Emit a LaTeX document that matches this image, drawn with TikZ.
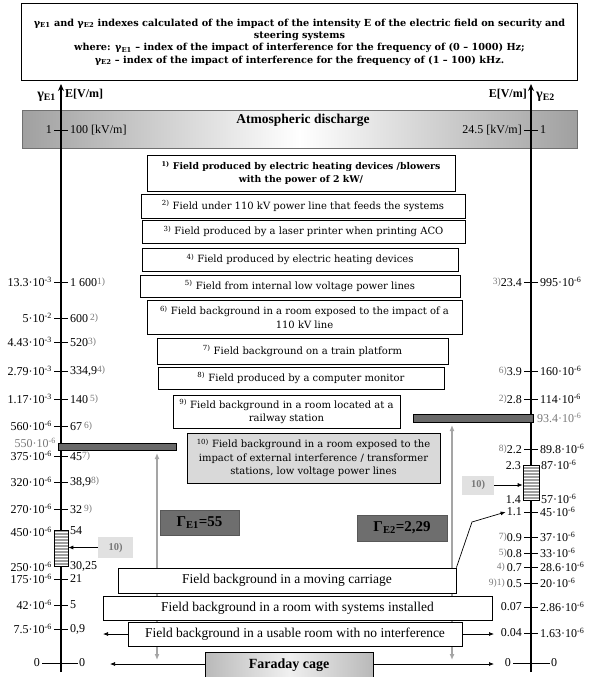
\documentclass[tikz,border=0pt]{standalone}
\usepackage{fontspec}
\setmainfont{Liberation Serif}
\newfontfamily\boxfont[Ligatures=TeX]{DejaVu Serif}
\usetikzlibrary{arrows.meta,positioning,patterns,calc}
\definecolor{pband}{RGB}{160,160,160}
\definecolor{pbar}{RGB}{105,105,105}
\definecolor{pgamma}{RGB}{110,110,110}
\definecolor{pcell}{RGB}{217,217,217}
\definecolor{plabel}{RGB}{225,225,225}
\definecolor{pgray}{RGB}{120,120,120}
\definecolor{parrow}{RGB}{165,165,165}
\newcommand{\mk}[1]{\textcolor{pgray}{\raisebox{2pt}{\fontsize{9.5}{10}\selectfont #1}}}
\newcommand{\ex}[1]{·10\textsuperscript{#1}}
\newcommand{\scaletick}[5]{%
  \draw[tick] (#1,#2) ++(-7,0) -- ++(14,0);
  \node[scalelbl,anchor=east] (#3l) at (#1-8,#2) {#4};
  \node[scalelbl,anchor=west] (#3r) at (#1+8,#2) {#5};
}
\tikzset{
  topbox/.style={draw=black,line width=0.7pt,fill=white,align=center,inner sep=2pt,
                 font=\boxfont\bfseries\fontsize{9.7}{12.3}\selectfont},
  fieldbox/.style={draw=black,line width=0.8pt,fill=white,align=center,inner sep=1pt,
                   font=\boxfont\fontsize{10}{13.5}\selectfont},
  groundbox/.style={draw=black,line width=0.8pt,fill=white,inner sep=1pt,
                    font=\fontsize{13.5}{15}\selectfont},
  band/.style={draw=pband!70!black,line width=0.6pt,left color=pband,right color=pband,
               middle color=white,inner sep=0pt},
  hdr/.style={inner sep=1pt,font=\bfseries\fontsize{12}{14}\selectfont},
  scalelbl/.style={inner sep=1pt,font=\fontsize{12}{13}\selectfont},
  tick/.style={line width=1pt},
  axis/.style={line width=2.2pt,-{Stealth[length=7pt,width=6pt]}},
  arr/.style={line width=0.7pt,-{Latex[length=5pt,width=4pt]}},
  grayarr/.style={parrow,line width=1.5pt,{Latex[length=6pt,width=5pt]}-{Latex[length=6pt,width=5pt]}},
  bar/.style={draw=black,line width=0.6pt,fill=pbar,inner sep=0pt},
  gammabox/.style={fill=pgamma,draw=pgamma!80!black,inner sep=0pt,
                   font=\bfseries\fontsize{15}{17}\selectfont},
  tenbox/.style={fill=plabel,inner sep=0pt,text=pgray,font=\bfseries\fontsize{10.5}{12}\selectfont},
  hatchseg/.style={draw=black,line width=0.6pt,preaction={fill=gray!75},
                   pattern=horizontal lines,pattern color=white,inner sep=0pt},
}
\begin{document}
\begin{tikzpicture}[x=1pt,y=-1pt]
  \useasboundingbox (0,0) rectangle (593,677);
  % heading
  \node[topbox,minimum width=556,minimum height=77] (head) at (299.5,42)
    {γ\textsubscript{E1} and γ\textsubscript{E2} indexes calculated of the impact of the intensity E of the electric field on security and\\
     steering systems\\
     where: γ\textsubscript{E1} – index of the impact of interference for the frequency of (0 – 1000) Hz;\\
     γ\textsubscript{E2} – index of the impact of interference for the frequency of (1 – 100) kHz.};
  % atmospheric band
  \node[band,minimum width=555,minimum height=38] (atm) at (299.5,129) {};
  \node[font=\bfseries\fontsize{13.5}{15}\selectfont] (atmtxt) at (303,120) {Atmospheric discharge};
  % gray ranges
  \coordinate (gl0) at (157,660);
  \coordinate (gl1) at (157,453);
  \coordinate (gr0) at (452,660);
  \coordinate (gr1) at (452,425);
  \draw[grayarr] (gl0) -- (gl1);
  \draw[grayarr] (gr0) -- (gr1);
  % axes
  \coordinate (ax1b) at (61,672);
  \coordinate (ax1t) at (61,84);
  \coordinate (ax2b) at (531,672);
  \coordinate (ax2t) at (531,84);
  \draw[axis] (ax1b) -- (ax1t);
  \draw[axis] (ax2b) -- (ax2t);
  \node[hdr,anchor=east,font=\bfseries\fontsize{14}{15}\selectfont] (g1) at (57,97) {γ\textsubscript{E1}};
  \node[hdr,anchor=west] (e1) at (64,94) {E[V/m]};
  \node[hdr,anchor=east] (e2) at (528,94) {E[V/m]};
  \node[hdr,anchor=west,font=\bfseries\fontsize{14}{15}\selectfont] (g2) at (535,97) {γ\textsubscript{E2}};
  % sources of the field
  \node[fieldbox,font=\boxfont\bfseries\fontsize{9.3}{13}\selectfont,minimum width=308,minimum height=36] (b1) at (301,173)
    {\textsuperscript{1)} Field produced by electric heating devices /blowers\\ with the power of 2 kW/};
  \node[fieldbox,minimum width=324,minimum height=24] (b2) at (303,206)
    {\textsuperscript{2)} Field under 110 kV power line that feeds the systems};
  \node[fieldbox,minimum width=323,minimum height=23] (b3) at (303.5,231.5)
    {\textsuperscript{3)} Field produced by a laser printer when printing ACO};
  \node[fieldbox,minimum width=316,minimum height=23] (b4) at (300,259.5)
    {\textsuperscript{4)} Field produced by electric heating devices};
  \node[fieldbox,minimum width=320,minimum height=22] (b5) at (300,286)
    {\textsuperscript{5)} Field from internal low voltage power lines};
  \node[fieldbox,minimum width=315,minimum height=34] (b6) at (304.5,317)
    {\textsuperscript{6)} Field background in a room exposed to the impact of a\\ 110 kV line};
  \node[fieldbox,minimum width=291,minimum height=26] (b7) at (302.5,351)
    {\textsuperscript{7)} Field background on a train platform};
  \node[fieldbox,minimum width=286,minimum height=22] (b8) at (301,378)
    {\textsuperscript{8)} Field produced by a computer monitor};
  \node[fieldbox,minimum width=227,minimum height=33] (b9) at (286.5,411.5)
    {\textsuperscript{9)} Field background in a room located at a\\ railway station};
  \node[fieldbox,fill=pcell,minimum width=253,minimum height=50] (b10) at (313.5,458)
    {\textsuperscript{10)} Field background in a room exposed to the\\ impact of external interference / transformer\\ stations, low voltage power lines};
  % level bars
  \node[bar,minimum width=118,minimum height=7] (lbar) at (117,446.5) {};
  \node[bar,minimum width=120,minimum height=8] (rbar) at (473,418) {};
  % left scale
  \scaletick{61}{130}{la}{1}{100 [kV/m]}
  \scaletick{61}{282}{lb}{13.3\ex{-3}}{1 600\mk{1)}}
  \scaletick{61}{318}{lc}{5\ex{-2}}{600\,\mk{2)}}
  \scaletick{61}{342}{ld}{4.43\ex{-3}}{520\mk{3)}}
  \scaletick{61}{371}{le}{2.79\ex{-3}}{334,9\mk{4)}}
  \scaletick{61}{399}{lf}{1.17\ex{-3}}{140\,\mk{5)}}
  \scaletick{61}{426}{lg}{560\ex{-6}}{67\,\mk{6)}}
  \node[scalelbl,anchor=east,text=pgray] (lbarl) at (57,443) {550\ex{-6}};
  \scaletick{61}{456}{lh}{375\ex{-6}}{45\mk{7)}}
  \scaletick{61}{482}{li}{320\ex{-6}}{38,9\mk{8)}}
  \scaletick{61}{509}{lj}{270\ex{-6}}{32\,\mk{9)}}
  \node[hatchseg,minimum width=14,minimum height=36] (h1) at (61,548) {};
  \node[scalelbl,anchor=east] (h1a) at (53,532) {450\ex{-6}};
  \node[scalelbl,anchor=west] (h1b) at (69,531) {54};
  \node[scalelbl,anchor=east] (h1c) at (53,567) {250\ex{-6}};
  \node[scalelbl,anchor=west] (h1d) at (69,566) {30,25};
  \scaletick{61}{579}{lk}{175\ex{-6}}{21}
  \scaletick{61}{605}{ll}{42\ex{-6}}{5}
  \scaletick{61}{629}{lm}{7.5\ex{-6}}{0,9}
  \draw[tick] (42,663) -- (78,663);
  \node[scalelbl,anchor=east] (lnl) at (41,663) {0};
  \node[scalelbl,anchor=west] (lnr) at (78,663) {0};
  % right scale
  \scaletick{531}{130}{ra}{24.5 [kV/m]}{1}
  \scaletick{531}{282}{rb}{\mk{3)}23.4}{995\ex{-6}}
  \scaletick{531}{371}{rc}{\mk{6)}3.9}{160\ex{-6}}
  \scaletick{531}{399}{rd}{\mk{2)}2.8}{114\ex{-6}}
  \node[scalelbl,anchor=west,text=pgray] (rbarl) at (536,418) {93.4\ex{-6}};
  \scaletick{531}{449}{re}{\mk{8)}2.2}{89.8\ex{-6}}
  \node[hatchseg,minimum width=16,minimum height=35] (h2) at (531,482.5) {};
  \node[scalelbl,anchor=east] (h2a) at (522,466) {2.3};
  \node[scalelbl,anchor=west] (h2b) at (540,465) {87\ex{-6}};
  \node[scalelbl,anchor=east] (h2c) at (522,500) {1.4};
  \node[scalelbl,anchor=west] (h2d) at (540,499) {57\ex{-6}};
  \scaletick{531}{512}{rf}{1.1}{45\ex{-6}}
  \scaletick{531}{537}{rg}{\mk{7)}0.9}{37\ex{-6}}
  \scaletick{531}{553}{rh}{\mk{5)}0.8}{33\ex{-6}}
  \scaletick{531}{567}{ri}{\mk{4)}\,0.7}{28.6\ex{-6}}
  \scaletick{531}{583}{rj}{\mk{9)1)}\,0.5}{20\ex{-6}}
  \scaletick{531}{607}{rk}{0.07}{2.86\ex{-6}}
  \scaletick{531}{633}{rl}{0.04}{1.63\ex{-6}}
  \draw[tick] (513,663) -- (550,663);
  \node[scalelbl,anchor=east] (rml) at (512,663) {0};
  \node[scalelbl,anchor=west] (rmr) at (550,663) {0};
  % index values
  \node[gammabox,minimum width=79,minimum height=25] (gam1) at (199.5,522.5) {Γ\textsubscript{E1}=55};
  \node[gammabox,minimum width=90,minimum height=26] (gam2) at (402,528) {Γ\textsubscript{E2}=2,29};
  \node[tenbox,minimum width=35,minimum height=21] (ten1) at (115.5,547.5) {10)};
  \node[tenbox,minimum width=32,minimum height=19] (ten2) at (478,485) {10)};
  \draw[arr] (ten1.west) -- (h1.east |- ten1.west);
  \draw[arr] (ten2.east) -- (h2.west |- ten2.east);
  % background fields
  \node[groundbox,minimum width=338,minimum height=25] (carr) at (287,580.5)
    {Field background in a moving carriage};
  \node[groundbox,minimum width=389,minimum height=24] (inst) at (297.5,608)
    {Field background in a room with systems installed};
  \node[groundbox,minimum width=334,minimum height=24] (usab) at (295,634)
    {Field background in a usable room with no interference};
  \node[groundbox,draw=black,shading=axis,left color=gray!55,right color=gray!55,middle color=gray!12,
        font=\bfseries\fontsize{14}{15}\selectfont,minimum width=168,minimum height=32,
        text depth=9pt] (fara) at (289,668) {Faraday cage};
  \coordinate (bend) at (472,522);
  \draw[arr] (carr.north east) -- (bend) -- (rfl.west);
  \coordinate (ul) at (103,634);
  \coordinate (ur) at (494,634);
  \draw[arr] (usab.west) -- (ul);
  \draw[arr] (usab.east) -- (ur);
  \coordinate (fl) at (110,664);
  \coordinate (fr) at (494,664);
  \draw[arr] (fara.west |- fl) -- (fl);
  \draw[arr] (fara.east |- fr) -- (fr);
\end{tikzpicture}
\end{document}
